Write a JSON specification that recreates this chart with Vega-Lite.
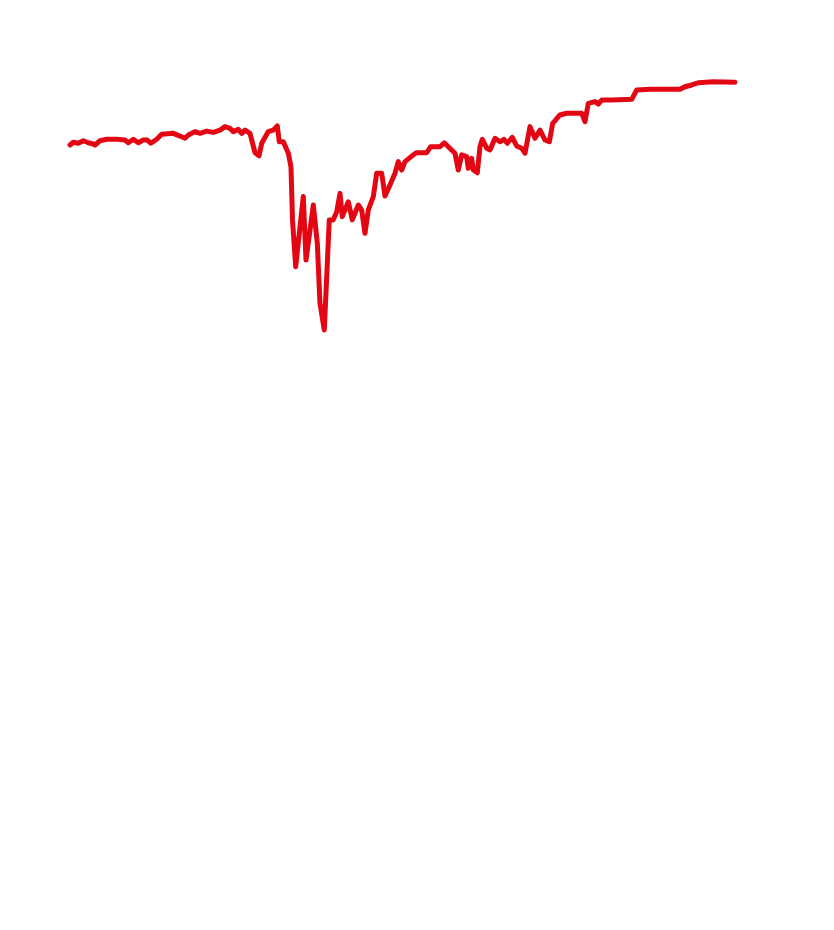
{
  "$schema": "https://vega.github.io/schema/vega-lite/v6.json",
  "width": 665,
  "height": 248,
  "padding": {"left": 67, "right": 102, "top": 79, "bottom": 603},
  "background": "white",
  "config": {"view": {"stroke": null}},
  "data": {
    "values": [
      {"t": 0, "v": 74.6}, {"t": 0.5, "v": 75.7}, {"t": 1.25, "v": 75.3}, {"t": 2.0, "v": 76.3},
      {"t": 2.75, "v": 75.5}, {"t": 3.5, "v": 75.0}, {"t": 3.76, "v": 74.6}, {"t": 4.51, "v": 76.3},
      {"t": 5.52, "v": 76.9}, {"t": 7.02, "v": 76.9}, {"t": 8.27, "v": 76.6}, {"t": 8.77, "v": 75.5},
      {"t": 9.52, "v": 76.9}, {"t": 10.27, "v": 75.5}, {"t": 11.02, "v": 76.6}, {"t": 11.62, "v": 76.6},
      {"t": 12.14, "v": 75.3}, {"t": 13.04, "v": 76.9}, {"t": 13.79, "v": 78.9}, {"t": 15.53, "v": 79.3},
      {"t": 16.54, "v": 78.2}, {"t": 17.29, "v": 77.3}, {"t": 17.79, "v": 78.6}, {"t": 18.8, "v": 80.0},
      {"t": 19.55, "v": 79.3}, {"t": 20.56, "v": 80.2}, {"t": 21.55, "v": 79.7}, {"t": 22.56, "v": 80.6},
      {"t": 23.31, "v": 82.0}, {"t": 24.06, "v": 81.3}, {"t": 24.56, "v": 80.0}, {"t": 25.31, "v": 80.9},
      {"t": 25.82, "v": 79.3}, {"t": 26.32, "v": 80.6}, {"t": 27.07, "v": 79.3}, {"t": 27.82, "v": 71.5},
      {"t": 28.42, "v": 70.2}, {"t": 28.83, "v": 75.3}, {"t": 29.82, "v": 80.0}, {"t": 30.57, "v": 80.6},
      {"t": 31.17, "v": 82.3}, {"t": 31.47, "v": 75.9}, {"t": 32.08, "v": 75.9}, {"t": 32.83, "v": 71.3},
      {"t": 33.23, "v": 65.8}, {"t": 33.46, "v": 44.4}, {"t": 33.94, "v": 25.5}, {"t": 35.08, "v": 53.8},
      {"t": 35.49, "v": 28.2}, {"t": 36.59, "v": 50.4}, {"t": 37.19, "v": 35.0}, {"t": 37.59, "v": 10.8},
      {"t": 38.24, "v": 0.0}, {"t": 38.99, "v": 44.4}, {"t": 39.59, "v": 44.4}, {"t": 40.11, "v": 47.7},
      {"t": 40.6, "v": 55.1}, {"t": 40.95, "v": 45.7}, {"t": 41.85, "v": 51.7}, {"t": 42.45, "v": 44.4},
      {"t": 43.35, "v": 50.4}, {"t": 43.86, "v": 48.4}, {"t": 44.36, "v": 39.0}, {"t": 44.86, "v": 48.4},
      {"t": 45.61, "v": 53.8}, {"t": 46.12, "v": 63.2}, {"t": 46.87, "v": 63.2}, {"t": 47.37, "v": 54.0},
      {"t": 48.12, "v": 58.5}, {"t": 48.87, "v": 63.2}, {"t": 49.37, "v": 67.9}, {"t": 49.88, "v": 64.5},
      {"t": 50.38, "v": 67.9}, {"t": 51.62, "v": 70.6}, {"t": 52.14, "v": 71.5}, {"t": 53.64, "v": 71.5},
      {"t": 54.24, "v": 73.9}, {"t": 55.64, "v": 73.9}, {"t": 56.29, "v": 75.5}, {"t": 56.89, "v": 73.9},
      {"t": 57.89, "v": 71.3}, {"t": 58.39, "v": 64.5}, {"t": 58.9, "v": 70.6}, {"t": 59.65, "v": 69.9},
      {"t": 59.89, "v": 65.2}, {"t": 60.4, "v": 69.2}, {"t": 60.65, "v": 64.5}, {"t": 61.25, "v": 63.4},
      {"t": 61.65, "v": 73.9}, {"t": 62.0, "v": 76.9}, {"t": 62.66, "v": 73.3}, {"t": 63.16, "v": 72.6},
      {"t": 63.91, "v": 77.3}, {"t": 64.66, "v": 75.9}, {"t": 65.26, "v": 76.9}, {"t": 65.76, "v": 75.3},
      {"t": 66.51, "v": 77.7}, {"t": 67.17, "v": 74.2}, {"t": 67.92, "v": 73.3}, {"t": 68.42, "v": 71.3},
      {"t": 69.17, "v": 82.0}, {"t": 69.92, "v": 77.3}, {"t": 70.68, "v": 80.6}, {"t": 71.43, "v": 76.6},
      {"t": 72.08, "v": 75.9}, {"t": 72.59, "v": 83.3}, {"t": 73.68, "v": 86.7}, {"t": 74.69, "v": 87.4},
      {"t": 76.95, "v": 87.4}, {"t": 77.44, "v": 84.0}, {"t": 77.94, "v": 91.4}, {"t": 78.95, "v": 92.1},
      {"t": 79.44, "v": 91.1}, {"t": 79.95, "v": 92.7}, {"t": 81.46, "v": 92.7}, {"t": 84.47, "v": 93.0},
      {"t": 85.22, "v": 96.8}, {"t": 87.22, "v": 97.1}, {"t": 91.73, "v": 97.1}, {"t": 92.48, "v": 98.1},
      {"t": 93.49, "v": 98.8}, {"t": 94.48, "v": 99.7}, {"t": 96.74, "v": 100.1}, {"t": 100, "v": 99.9}
    ]
  },
  "mark": {
    "type": "line",
    "color": "#e30613",
    "strokeWidth": 5,
    "strokeJoin": "round",
    "strokeCap": "round"
  },
  "encoding": {
    "x": {
      "field": "t",
      "type": "quantitative",
      "axis": null,
      "scale": {"domain": [0, 100], "nice": false, "zero": false}
    },
    "y": {
      "field": "v",
      "type": "quantitative",
      "axis": null,
      "scale": {"domain": [0, 100], "nice": false, "zero": false}
    }
  }
}
